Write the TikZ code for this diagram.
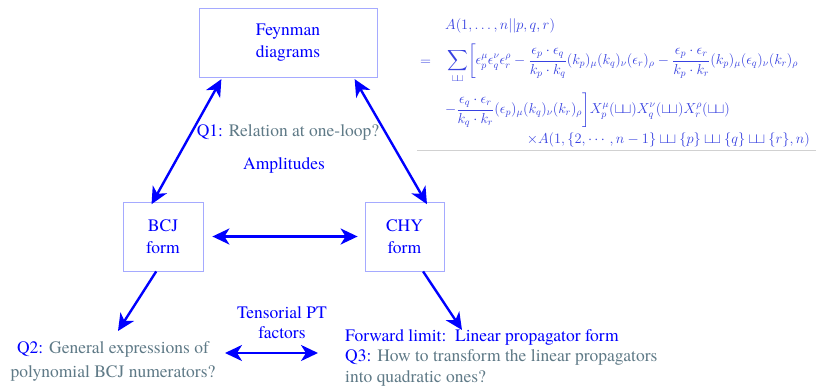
\documentclass[tikz,border=0pt]{standalone}
\usepackage{amsmath}
\usepackage{fontspec}
\newfontfamily\tms{texgyretermes-regular.otf}
\usetikzlibrary{positioning,arrows.meta,calc}

\definecolor{qblue}{RGB}{0,0,255}
\definecolor{qgray}{RGB}{95,122,135}
\definecolor{boxline}{RGB}{165,170,255}
\definecolor{eqblue}{RGB}{55,65,225}
\newcommand{\shuff}{\mathbin{\sqcup\mkern-3mu\sqcup}}
\newcommand{\qq}[2]{{\color{qblue}#1}{\color{qgray}#2}}

\tikzset{
  box/.style={draw=boxline, line width=0.8pt, minimum height=69pt},
  dblarr/.style={{Stealth[length=17pt,width=16pt,inset=5pt]}-{Stealth[length=17pt,width=16pt,inset=5pt]},
    line width=2.4pt, draw=qblue},
  onearr/.style={-{Stealth[length=17pt,width=16pt,inset=5pt]}, line width=2.4pt, draw=qblue},
  eqline/.style={anchor=west, inner sep=0pt, text=eqblue, font=\fontsize{14.5}{16}\selectfont},
}

\begin{document}
\begin{tikzpicture}[x=1pt, y=-1pt, font=\tms\fontsize{17.5}{22}\selectfont,
  every node/.style={align=center, text=qblue}]
  \useasboundingbox[fill=white] (0,0) rectangle (816,386);

  % boxes
  \node[box, minimum width=178pt] (feyn) at (288,42.5) {Feynman\\diagrams};
  \node[box, minimum width=80pt] (bcj) at (163,236.5) {BCJ\\form};
  \node[box, minimum width=79pt] (chy) at (404.5,236.5) {CHY\\form};

  % labels
  \node (q1) at (288,132) {\qq{Q1: }{Relation at one-loop?}};
  \node (amp) at (284,165) {Amplitudes};
  \node[inner sep=0pt, anchor=north, font=\tms\fontsize{17.5}{20}\selectfont] (tens) at (282,306.5)
    {Tensorial PT\\factors};
  \node[inner sep=0pt, anchor=north, font=\tms\fontsize{17.5}{24}\selectfont] (q2) at (113,341.5)
    {\qq{Q2: }{General expressions of}\\\color{qgray}polynomial BCJ numerators?};
  \node[inner sep=0pt, anchor=north west, align=left, font=\tms\fontsize{17.5}{20.5}\selectfont] (q3) at (345,329)
    {Forward limit:\ \ Linear propagator form\\
     \qq{Q3: }{How to transform the linear propagators}\\\color{qgray}into quadratic ones?};

  % formula
  \node[eqline] (eqa) at (445,26) {$A(1,\ldots,n||p,q,r)$};
  \node[eqline] (eqeq) at (420,63) {$=$};
  \node[eqline] (eqb) at (447,63) {$\displaystyle\sum_{\shuff}\biggl[\epsilon_p^{\mu}\epsilon_q^{\nu}\epsilon_r^{\rho}
    -\frac{\epsilon_p\cdot\epsilon_q}{k_p\cdot k_q}(k_p)_{\mu}(k_q)_{\nu}(\epsilon_r)_{\rho}
    -\frac{\epsilon_p\cdot\epsilon_r}{k_p\cdot k_r}(k_p)_{\mu}(\epsilon_q)_{\nu}(k_r)_{\rho}$};
  \node[eqline] (eqc) at (445,110) {$\displaystyle-\frac{\epsilon_q\cdot\epsilon_r}{k_q\cdot k_r}(\epsilon_p)_{\mu}(k_q)_{\nu}(k_r)_{\rho}\biggr]
    X_p^{\mu}(\shuff)X_q^{\nu}(\shuff)X_r^{\rho}(\shuff)$};
  \node[eqline, anchor=east] (eqd) at (810,140) {$\times A(1,\{2,\cdots,n-1\}\shuff\{p\}\shuff\{q\}\shuff\{r\},n)$};
  \draw[black!18, line width=1pt] (417,150) -- (816,150);

  % free arrow ends
  \coordinate (q2tip) at (118,331);
  \coordinate (q3tip) at (462,330);
  \coordinate (tl) at (225,353);
  \coordinate (tr) at (318,353);

  % arrows
  \draw[dblarr, shorten <=2pt, shorten >=-3pt] (feyn.208) -- (bcj.106);
  \draw[dblarr, shorten <=2pt, shorten >=-3pt] (feyn.332) -- (chy.59);
  \draw[dblarr, shorten <=9pt, shorten >=7pt] (bcj.east) -- (chy.west);
  \draw[onearr] (bcj.259) -- (q2tip);
  \draw[onearr] (chy.298) -- (q3tip);
  \draw[dblarr] (tl) -- (tr);
\end{tikzpicture}
\end{document}
